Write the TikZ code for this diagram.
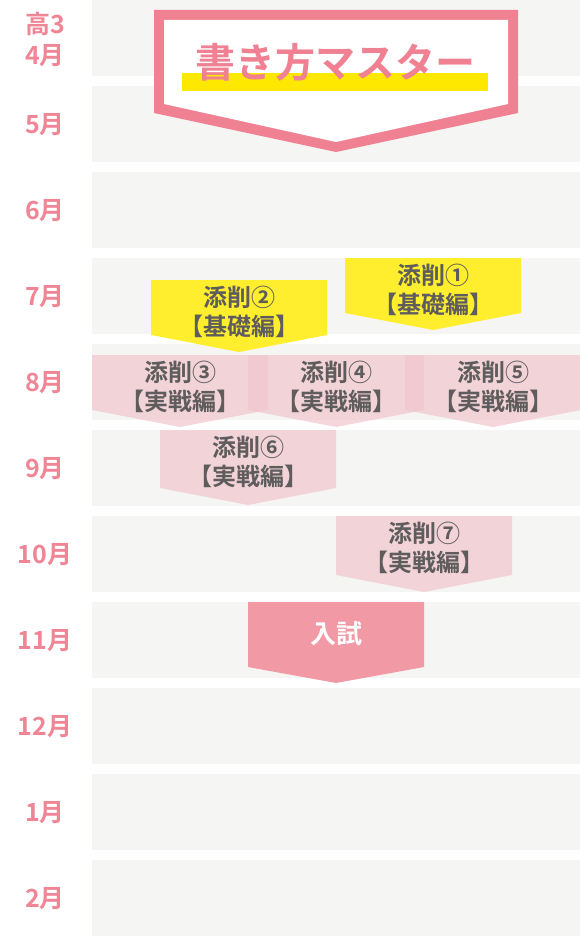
\documentclass[tikz,border=0pt]{standalone}
\usepackage{fontspec}
\setmainfont{Noto Sans CJK JP}[BoldFont={* Bold}]
\usepackage{tikz}

\definecolor{bandgray}{HTML}{F5F5F3}
\definecolor{monthpink}{HTML}{EF8595}
\definecolor{titlepink}{HTML}{F08192}
\definecolor{titlebar}{HTML}{FFE800}
\definecolor{boxyellow}{HTML}{FFEE2E}
\definecolor{boxpink}{HTML}{F1C8CF}
\definecolor{exampink}{HTML}{F19AA6}
\definecolor{boxgray}{HTML}{5E5C5C}

% banner box: name, fill style, text style, left, top, side bottom, tip, text
\newcommand{\lessonbox}[8]{%
  \fill[#2] (#4,#5) -- (#4+176,#5) -- (#4+176,#6) -- (#4+88,#7) -- (#4,#6) -- cycle;
  \node[#3] (#1) at (#4+88,#5+32) {#8};
}

\begin{document}
\begin{tikzpicture}[
    x=1pt, y=-1pt,
    every node/.style={inner sep=0pt},
    band/.style={fill=bandgray},
    monthlabel/.style={text=monthpink, font=\bfseries\fontsize{25}{31}\selectfont, align=center},
    titletext/.style={text=titlepink, font=\bfseries\fontsize{40}{44}\selectfont},
    basicbox/.style={fill=boxyellow},
    practicebox/.style={fill=boxpink, fill opacity=0.75},
    exambox/.style={fill=exampink},
    boxtext/.style={text=boxgray, font=\bfseries\fontsize{24}{29}\selectfont, align=center},
    examtext/.style={text=white, font=\bfseries\fontsize{26}{28}\selectfont}
  ]
  \useasboundingbox (0,0) rectangle (580,936);

  % month rows
  \foreach \i in {0,...,10}
    \fill[band] (92,{86*\i}) rectangle (580,{86*\i+76});
  \foreach \m [count=\i from 0] in {{高3\\4月},5月,6月,7月,8月,9月,10月,11月,12月,1月,2月}
    \node[monthlabel] (month\i) at (45,{86*\i+39}) {\m};

  % title
  \fill[titlepink] (154,10) -- (518,10) -- (518,113) -- (336,152) -- (154,113) -- cycle;
  \fill[white] (164,20) -- (508,20) -- (508,104) -- (336,142) -- (164,104) -- cycle;
  \fill[titlebar] (182,73) rectangle (488,91);
  \node[titletext] (title) at (335,62) {書き方マスター};

  % lessons
  \lessonbox{les1}{basicbox}{boxtext}{345}{258}{313}{330}{添削①\\【基礎編】}
  \lessonbox{les2}{basicbox}{boxtext}{151}{280}{335}{352}{添削②\\【基礎編】}
  \lessonbox{les3}{practicebox}{boxtext}{92}{355}{410}{427}{添削③\\【実戦編】}
  \lessonbox{les4}{practicebox}{boxtext}{248}{355}{410}{427}{添削④\\【実戦編】}
  \lessonbox{les5}{practicebox}{boxtext}{405}{355}{410}{427}{添削⑤\\【実戦編】}
  \lessonbox{les6}{practicebox}{boxtext}{160}{430}{488}{505}{添削⑥\\【実戦編】}
  \lessonbox{les7}{practicebox}{boxtext}{336}{516}{575}{592}{添削⑦\\【実戦編】}
  \lessonbox{exam}{exambox}{examtext}{248}{602}{667}{683}{入試}
\end{tikzpicture}
\end{document}
